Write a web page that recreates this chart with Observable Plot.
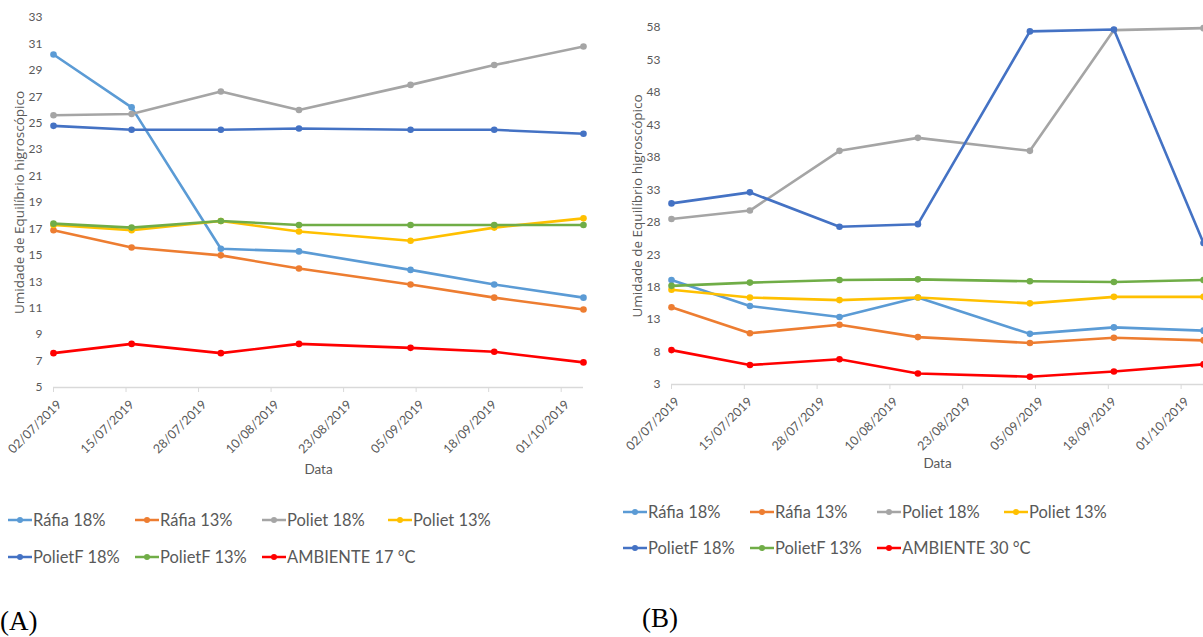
<!DOCTYPE html>
<html><head><meta charset="utf-8">
<script src="https://cdn.jsdelivr.net/npm/d3@7"></script>
<script src="https://cdn.jsdelivr.net/npm/@observablehq/plot@0.6"></script>
<style>
body{margin:0;background:#fff;width:1203px;height:637px;position:relative;overflow:hidden;font-family:Lato,sans-serif;}
.chart{position:absolute;top:0}
.leg{position:absolute;display:flex;align-items:center;font-family:Lato,sans-serif;font-size:16.5px;color:#595959;white-space:nowrap;height:20px}
.leg svg{margin-right:1px}
.tag{position:absolute;font-family:"Liberation Serif",serif;font-size:27px;color:#000}
</style></head><body>
<div id="a" class="chart" style="left:0"></div>
<div id="b" class="chart" style="left:600px"></div>
<div class="tag" style="left:0;top:606px">(A)</div>
<div class="tag" style="left:642px;top:603px">(B)</div>
<script>
const dates = ["2019-07-02","2019-07-16","2019-08-01","2019-08-15","2019-09-04","2019-09-19","2019-10-05"];
const tickDates = ["2019-07-02","2019-07-15","2019-07-28","2019-08-10","2019-08-23","2019-09-05","2019-09-18","2019-10-01"];
const seriesA = ["Ráfia 18%","Ráfia 13%","Poliet 18%","Poliet 13%","PolietF 18%","PolietF 13%","AMBIENTE 17 °C"];
const seriesB = ["Ráfia 18%","Ráfia 13%","Poliet 18%","Poliet 13%","PolietF 18%","PolietF 13%","AMBIENTE 30 °C"];
const colors = ["#5B9BD5","#ED7D31","#A5A5A5","#FFC000","#4472C4","#70AD47","#FF0000"];

const valuesA = [
  [30.2, 26.2, 15.5, 15.3, 13.9, 12.8, 11.8],
  [16.9, 15.6, 15.0, 14.0, 12.8, 11.8, 10.9],
  [25.6, 25.7, 27.4, 26.0, 27.9, 29.4, 30.8],
  [17.3, 16.9, 17.6, 16.8, 16.1, 17.1, 17.8],
  [24.8, 24.5, 24.5, 24.6, 24.5, 24.5, 24.2],
  [17.4, 17.1, 17.6, 17.3, 17.3, 17.3, 17.3],
  [7.6, 8.3, 7.6, 8.3, 8.0, 7.7, 6.9]
];
const valuesB = [
  [19.1, 15.1, 13.4, 16.4, 10.8, 11.8, 11.3],
  [14.9, 10.9, 12.2, 10.3, 9.4, 10.2, 9.8],
  [28.5, 29.8, 39.0, 41.0, 39.0, 57.6, 57.9],
  [17.6, 16.4, 16.0, 16.4, 15.5, 16.5, 16.5],
  [30.9, 32.6, 27.3, 27.7, 57.4, 57.7, 24.8],
  [18.2, 18.7, 19.1, 19.2, 18.9, 18.8, 19.1],
  [8.3, 6.0, 6.9, 4.7, 4.2, 5.0, 6.1]
];
const yTicksA = [5,7,9,11,13,15,17,19,21,23,25,27,29,31,33];
const yTicksB = [3,8,13,18,23,28,33,38,43,48,53,58];
const yLabel = "Umidade de Equilíbrio higroscópico";
const xLabel = "Data";
const xMax = "2019-10-05";

function chart(series, values, yTicks, lay) {
  const rows = series.flatMap((s, i) => dates.map((d, j) => ({series: s, date: new Date(d), value: values[i][j]})));
  const yDom = [yTicks[0], yTicks[yTicks.length - 1]];
  const xt = tickDates.map(d => new Date(d));
  return Plot.plot({
    width: lay.width, height: lay.height,
    marginLeft: lay.ml, marginRight: lay.mr, marginTop: lay.mt, marginBottom: lay.mb,
    style: {fontFamily: "Lato, sans-serif", fontSize: "12px", color: "#595959", background: "transparent", overflow: "visible"},
    x: {type: "utc", domain: [new Date(dates[0]), new Date(xMax)]},
    y: {domain: yDom},
    color: {domain: series, range: colors},
    marks: [
      Plot.ruleY([yDom[0]], {stroke: "#d9d9d9", strokeWidth: 1.5}),
      Plot.axisY({ticks: yTicks, tickSize: 0, tickPadding: lay.tp, label: null, fill: "#595959"}),
      Plot.axisX({ticks: xt, tickFormat: () => "", tickSize: 5, label: null, stroke: "#d9d9d9"}),
      Plot.axisX({ticks: xt, tickFormat: d3.utcFormat("%d/%m/%Y"), tickRotate: -45, tickSize: 0, tickPadding: 15, dx: 6, label: null, fill: "#595959", fontSize: 12.5}),
      ...series.flatMap(s => [
        Plot.line(rows.filter(r => r.series === s), {x: "date", y: "value", stroke: "series", strokeWidth: 2.6}),
        Plot.dot(rows.filter(r => r.series === s), {x: "date", y: "value", fill: "series", r: 3.3})
      ]),
      Plot.text([yLabel], {frameAnchor: "left", textAnchor: "middle", rotate: -90, dx: lay.ydx, fontSize: 13.5, fontFamily: "Open Sans, sans-serif", fill: "#595959"}),
      Plot.text([xLabel], {frameAnchor: "bottom", dy: lay.xdy, fontSize: 13.5, fill: "#595959"})
    ]
  });
}

document.getElementById("a").append(chart(seriesA, valuesA, yTicksA,
  {width: 600, height: 490, ml: 53, mr: 17, mt: 17, mb: 103, tp: 11, ydx: -34, xdy: 86}));
document.getElementById("b").append(chart(seriesB, valuesB, yTicksB,
  {width: 603, height: 490, ml: 71, mr: 0, mt: 27, mb: 106, tp: 11, ydx: -34, xdy: 83}));

function legend(series, xs, ys) {
  series.forEach((s, i) => {
    const el = document.createElement("div");
    el.className = "leg";
    el.style.left = xs[i % 4] + "px";
    el.style.top = (ys[Math.floor(i / 4)] - 10) + "px";
    el.innerHTML = `<svg width="24" height="10"><line x1="0" x2="24" y1="5" y2="5" stroke="${colors[i]}" stroke-width="2.5"/><circle cx="12" cy="5" r="3" fill="${colors[i]}"/></svg><span>${s}</span>`;
    document.body.append(el);
  });
}
legend(seriesA, [8, 135, 262, 388], [520, 557]);
legend(seriesB, [623, 750, 877, 1004], [512, 548]);
</script>
</body></html>
